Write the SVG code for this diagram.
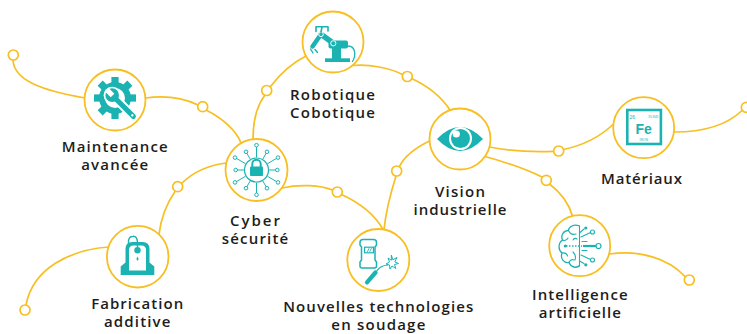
<svg xmlns="http://www.w3.org/2000/svg" width="747" height="334" viewBox="0 0 747 334">
<style>
.ln{fill:none;stroke:#F8BF22;stroke-width:1.7;stroke-linecap:round}
.dot{fill:#fff;stroke:#F8BF22;stroke-width:1.7}
.ring{fill:#fff;stroke:#F8BF22;stroke-width:1.8}
.lbl{font-family:"Open Sans","Liberation Sans",sans-serif;font-weight:600;font-size:15px;fill:#1d1d1b;text-anchor:middle}
.t{fill:#1BB3B2}
.ts{fill:none;stroke:#1BB3B2;stroke-linecap:round;stroke-linejoin:round}
.w{fill:#fff}
</style>
<rect width="747" height="334" fill="#fff"/>
<g id="connectors">
<path class="ln" d="M13,60 C14,80 40,90 85,98"/>
<path class="ln" d="M145.5,98 Q175,94 198,105"/>
<path class="ln" d="M206,110 C222,118 236,130 241,143"/>
<path class="ln" d="M253,139.5 C253,120 258,104 265,95"/>
<path class="ln" d="M270.5,86.5 C280,74 292,63 306,56"/>
<path class="ln" d="M352.5,65.5 C370,64 390,68 402.5,74.5"/>
<path class="ln" d="M411.5,78.5 C428,86 442,98 450,110"/>
<path class="ln" d="M489.5,147 C510,151 535,152 553.7,151.3"/>
<path class="ln" d="M563.5,149.5 C585,145 602,135 613.5,124"/>
<path class="ln" d="M485,156.5 C505,162 528,170 542,177"/>
<path class="ln" d="M549.5,184 C560,192 569,204 572.5,216"/>
<path class="ln" d="M674,132 C700,132 725,127 742,110.5"/>
<path class="ln" d="M609.5,254 C640,250 668,258 685,276.5"/>
<path class="ln" d="M429.5,141 C415,148 404,157 399.5,166.5"/>
<path class="ln" d="M396,176 C391,192 386,210 384,229.5"/>
<path class="ln" d="M282,188 C300,184 320,185 332.5,190"/>
<path class="ln" d="M341.5,194.5 C360,203 375,215 383,229.5"/>
<path class="ln" d="M226.5,163 C210,165 193,172 181.5,183.5"/>
<path class="ln" d="M175,191.5 C167,203 161,218 159,234.5"/>
<path class="ln" d="M108.5,247 C70,250 33,268 26,305"/>
<circle class="dot" cx="13.3" cy="55" r="5"/>
<circle class="dot" cx="202.7" cy="106.7" r="5"/>
<circle class="dot" cx="266.7" cy="90.5" r="5"/>
<circle class="dot" cx="407.3" cy="76.5" r="5"/>
<circle class="dot" cx="396.7" cy="171" r="5"/>
<circle class="dot" cx="558.7" cy="151" r="5"/>
<circle class="dot" cx="746.3" cy="107.3" r="5"/>
<circle class="dot" cx="546.3" cy="180.3" r="5"/>
<circle class="dot" cx="177.7" cy="186.7" r="5"/>
<circle class="dot" cx="25" cy="310" r="5"/>
<circle class="dot" cx="337.3" cy="192" r="5"/>
<circle class="dot" cx="689.3" cy="280" r="5"/>
</g>
<g id="maintenance">
<circle class="ring" cx="115" cy="100" r="30.5"/>
<g transform="translate(115,98)">
<circle class="t" r="16"/>
<g class="t">
<rect x="-3.6" y="-21" width="7.2" height="8"/>
<rect x="-3.6" y="-21" width="7.2" height="8" transform="rotate(45)"/>
<rect x="-3.6" y="-21" width="7.2" height="8" transform="rotate(90)"/>
<rect x="-3.6" y="-21" width="7.2" height="8" transform="rotate(135)"/>
<rect x="-3.6" y="-21" width="7.2" height="8" transform="rotate(180)"/>
<rect x="-3.6" y="-21" width="7.2" height="8" transform="rotate(225)"/>
<rect x="-3.6" y="-21" width="7.2" height="8" transform="rotate(270)"/>
<rect x="-3.6" y="-21" width="7.2" height="8" transform="rotate(315)"/>
</g>
<circle class="w" r="10"/>
<g transform="rotate(45)">
<line x1="-4" y1="0" x2="26" y2="0" stroke="#fff" stroke-width="9" stroke-linecap="round"/>
<circle class="w" cx="-4" cy="0" r="8.5"/>
<line x1="-4" y1="0" x2="26" y2="0" stroke="#1BB3B2" stroke-width="5" stroke-linecap="round"/>
<circle class="t" cx="-4" cy="0" r="6.8"/>
<rect class="w" x="-12" y="-2.6" width="8.5" height="5.2"/>
<circle class="w" cx="24.5" cy="0" r="1.2"/>
</g>
</g>
<text class="lbl" x="114.7" y="152"><tspan x="114.7" y="152" textLength="106" lengthAdjust="spacing">Maintenance</tspan><tspan x="114.7" y="170.3" textLength="67" lengthAdjust="spacing">avancée</tspan></text>
</g>
<g id="robotique">
<circle class="ring" cx="333" cy="42" r="30.5"/>
<rect class="t" x="325" y="58.3" width="25" height="3.7"/>
<rect class="t" x="332" y="46" width="9" height="13"/>
<rect class="t" x="328.5" y="40.5" width="19.5" height="8" rx="2"/>
<line x1="333.3" y1="43.3" x2="321" y2="34.3" stroke="#1BB3B2" stroke-width="5.5" stroke-linecap="round"/>
<line x1="321" y1="34.3" x2="312.5" y2="46.5" stroke="#1BB3B2" stroke-width="4.5" stroke-linecap="round"/>
<circle cx="333.3" cy="43.3" r="2.6" fill="none" stroke="#fff" stroke-width="1"/>
<circle cx="321" cy="34.3" r="2.3" fill="none" stroke="#fff" stroke-width="1"/>
<path class="ts" stroke-width="1.4" d="M310.5,49 L313,53 M315,49.5 L317.5,52.5"/>
<path class="ts" stroke-width="1.6" d="M316,31.5 V26.7 H328 V31 M322,27 L321,32"/>
<path class="ts" stroke-width="1.3" d="M348,46 C356,46 356,56 352.5,61.5"/>
<text class="lbl" x="332.5" y="99.5"><tspan x="332.5" y="99.5" textLength="85" lengthAdjust="spacing">Robotique</tspan><tspan x="332.5" y="117.8" textLength="85" lengthAdjust="spacing">Cobotique</tspan></text>
</g>
<g id="cyber">
<circle class="ring" cx="256.5" cy="170" r="31"/>
<circle cx="256.5" cy="170" r="12" fill="none" stroke="#1BB3B2" stroke-width="1.2"/>
<path class="ts" stroke-width="2" d="M252.3,167 V164 a4.2,4.2 0 0 1 8.4,0 V167"/>
<rect class="t" x="250" y="166.5" width="13" height="9.5" rx="1"/>
<g class="ts" stroke-width="1">
<path d="M269.5,170 H275.5 M267.8,176.5 L276.4,181.5 M263,181.3 L266,186.5 M256.5,183 V193 M250,181.3 L247,186.5 M245.2,176.5 L236.6,181.5 M243.5,170 H237.5 M245.2,163.5 L236.6,158.5 M250,158.7 L247,153.5 M256.5,157 V147 M263,158.7 L266,153.5 M267.8,163.5 L276.4,158.5"/>
</g>
<g fill="#fff" stroke="#1BB3B2" stroke-width="1">
<circle cx="277.3" cy="170" r="1.8"/>
<circle cx="278" cy="182.4" r="1.8"/>
<circle cx="267" cy="188.2" r="1.8"/>
<circle cx="256.5" cy="194.8" r="1.8"/>
<circle cx="246" cy="188.2" r="1.8"/>
<circle cx="235" cy="182.4" r="1.8"/>
<circle cx="235.7" cy="170" r="1.8"/>
<circle cx="235" cy="157.6" r="1.8"/>
<circle cx="246" cy="151.8" r="1.8"/>
<circle cx="256.5" cy="145.2" r="1.8"/>
<circle cx="267" cy="151.8" r="1.8"/>
<circle cx="278" cy="157.6" r="1.8"/>
</g>
<text class="lbl" x="255" y="225.5"><tspan x="255" y="225.5" textLength="50" lengthAdjust="spacing">Cyber</tspan><tspan x="255" y="243.8" textLength="66.5" lengthAdjust="spacing">sécurité</tspan></text>
</g>
<g id="vision">
<circle class="ring" cx="460" cy="139" r="30.5"/>
<path class="t" d="M437,139 Q460,115 483,139 Q460,163 437,139 Z"/>
<circle cx="460.5" cy="138.5" r="11.5" fill="#fff"/>
<circle class="t" cx="460.5" cy="138.5" r="9.5"/>
<circle class="w" cx="456.3" cy="134" r="3.6"/>
<text class="lbl" x="460" y="196.7"><tspan x="460" y="196.7" textLength="50" lengthAdjust="spacing">Vision</tspan><tspan x="460" y="215" textLength="93" lengthAdjust="spacing">industrielle</tspan></text>
</g>
<g id="materiaux">
<circle class="ring" cx="643.7" cy="127.7" r="30.5"/>
<rect x="627.3" y="110" width="33.6" height="34" fill="none" stroke="#1BB3B2" stroke-width="2.6"/>
<text x="643.7" y="133.5" font-family="'Liberation Sans',sans-serif" font-weight="bold" font-size="14" fill="#1BB3B2" text-anchor="middle">Fe</text>
<text x="629.5" y="118.5" font-family="'Liberation Sans',sans-serif" font-size="5" fill="#1BB3B2">26</text>
<text x="658.5" y="117.8" font-family="'Liberation Sans',sans-serif" font-size="3.4" fill="#1BB3B2" text-anchor="end">55.845</text>
<text x="643.7" y="141" font-family="'Liberation Sans',sans-serif" font-size="3.4" fill="#1BB3B2" text-anchor="middle">IRON</text>
<text class="lbl" x="641.5" y="184" textLength="81" lengthAdjust="spacing">Matériaux</text>
</g>
<g id="fabrication">
<circle class="ring" cx="137.7" cy="256.7" r="30.8"/>
<path class="t" d="M120.7,275 V266.5 L125.5,262.5 V249 Q125.5,242 132.5,242 H142.5 Q149.5,242 149.5,249 V262.5 L154.3,266.5 V275 Z"/>
<path class="w" d="M129,270.5 V250 Q129,245.5 133.5,245.5 H141.5 Q146,245.5 146,250 V270.5 Z"/>
<path class="ts" stroke-width="1.5" d="M128.5,243 Q128,236.5 133,236.3 Q137.5,236 137.5,243 V247"/>
<circle class="t" cx="137.5" cy="250.3" r="3.2"/>
<path class="t" d="M137.5,256.5 Q135.5,259.5 137.5,260.8 Q139.5,259.5 137.5,256.5 Z"/>
<text class="lbl" x="137.2" y="309"><tspan x="137.2" y="309" textLength="92" lengthAdjust="spacing">Fabrication</tspan><tspan x="137.2" y="327.3" textLength="66.5" lengthAdjust="spacing">additive</tspan></text>
</g>
<g id="soudage">
<circle class="ring" cx="378.3" cy="260" r="31"/>
<path class="ts" stroke-width="1.5" fill="#fff" d="M363,239.5 H373.5 Q376.5,239.5 376.5,242.5 V245 L375,247 V260 L376.5,262 V266 Q376.5,268 374.5,268 H362 Q360,268 360,266 V262 L361.5,260 V247 L360,245 V242.5 Q360,239.5 363,239.5 Z"/>
<rect x="364.6" y="247.2" width="8.8" height="5.6" fill="none" stroke="#1BB3B2" stroke-width="1.2"/>
<path class="ts" stroke-width="0.9" d="M367.5,251.5 L369,248.5 M369.8,251.5 L371.3,248.5"/>
<line x1="367" y1="282.3" x2="375.5" y2="272.5" stroke="#1BB3B2" stroke-width="4.2" stroke-linecap="round"/>
<path class="ts" stroke-width="1.2" d="M376,272 Q380,265.5 387.5,265"/>
<path class="ts" stroke-width="1" d="M391.5,255.5 L392.8,259.8 L397,257.5 L394.8,261.8 L398.5,263.5 L394.5,264.5 L395.8,268.5 L392,266 L390,269 L389.5,265 L386,264 L389.5,262 L388,258 L391,260 Z"/>
<text class="lbl" x="378.3" y="311.8"><tspan x="378.3" y="311.8" textLength="190" lengthAdjust="spacing">Nouvelles technologies</tspan><tspan x="378.3" y="330.1" textLength="94" lengthAdjust="spacing">en soudage</tspan></text>
</g>
<g id="ia">
<circle class="ring" cx="579.7" cy="245.7" r="30.5"/>
<path class="ts" stroke-width="1.3" d="M579.5,226 C574,223.5 568.5,227 568.5,230.5 C563,230.5 560.5,236 562.5,240 C558,243 558,250 562,253 C560,258.5 564,263.5 569,262.5 C571,267.5 577,268.5 579.5,265.5"/>
<path class="ts" stroke-width="1.1" d="M579.5,226 V266 M568.5,230.5 C570,234 573,235 576,234 M562.5,240 C565,241 567,240 568,238 M573,240 C574,238 576,238 577,239 M562,253 C565,252.5 567,254 567.5,256 M573,252 C575,254 576,257 575,260 M569,262.5 C570,260 572,259 574,260"/>
<path class="ts" stroke-width="1.1" d="M579.5,233 L584,229 M581,237 L590.5,232.5 M581,255 L590.5,259.5 M579.5,261 L584,263.5 M582,241.5 L587,241.5 M582,250.5 L587,250.5"/>
<circle class="t" cx="585.8" cy="228" r="1.6"/>
<circle cx="592.5" cy="232" r="2" fill="#fff" stroke="#1BB3B2" stroke-width="1.1"/>
<circle cx="592.5" cy="260" r="2" fill="#fff" stroke="#1BB3B2" stroke-width="1.1"/>
<circle class="t" cx="585.8" cy="264.8" r="1.6"/>
<line x1="566" y1="246" x2="582" y2="246" stroke="#1BB3B2" stroke-width="1.6" stroke-dasharray="1.5 1.5"/>
<line x1="583" y1="246" x2="596" y2="246" stroke="#1BB3B2" stroke-width="2.2"/>
<circle class="t" cx="565.3" cy="246" r="1.6"/>
<circle cx="598.5" cy="246" r="2.5" fill="#fff" stroke="#1BB3B2" stroke-width="1.2"/>
<text class="lbl" x="579.8" y="299.8"><tspan x="579.8" y="299.8" textLength="95.5" lengthAdjust="spacing">Intelligence</tspan><tspan x="579.8" y="318.1" textLength="82" lengthAdjust="spacing">artificielle</tspan></text>
</g>
</svg>
